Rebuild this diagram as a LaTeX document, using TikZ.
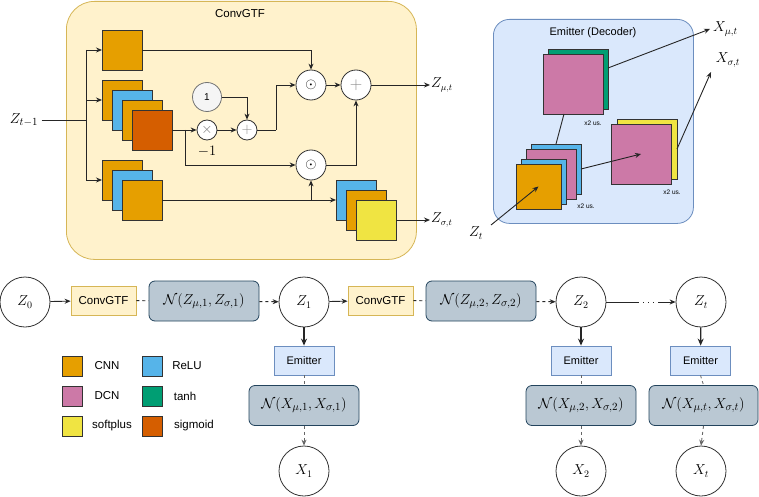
\documentclass[tikz,border=0pt]{standalone}
\usepackage{fontspec}
\setmainfont{Liberation Sans}
\usetikzlibrary{arrows.meta}
\definecolor{cnn}{HTML}{E69F00}
\definecolor{relu}{HTML}{56B4E9}
\definecolor{dcn}{HTML}{CC79A7}
\definecolor{tanhc}{HTML}{009E73}
\definecolor{softp}{HTML}{F0E442}
\definecolor{sigm}{HTML}{D55E00}
\definecolor{yfill}{HTML}{FFF2CC}
\definecolor{ydraw}{HTML}{D6B656}
\definecolor{bfill}{HTML}{DAE8FC}
\definecolor{bdraw}{HTML}{6C8EBF}
\definecolor{gfill}{HTML}{BAC8D3}
\definecolor{gdraw}{HTML}{23445D}
\begin{document}
\begin{tikzpicture}[x=1pt,y=-1pt,
  ln/.style={draw=black!85,line width=0.9pt},
  arr/.style={ln,-{Stealth[length=6pt,width=5pt]}},
  sq/.style={draw=black!80,line width=0.8pt,anchor=north west,minimum size=#1,inner sep=0,outer sep=0},
  opc/.style={circle,draw=black!80,fill=white,line width=0.8pt,minimum size=#1,inner sep=0},
  graysym/.style={text=black!45,font=\fontsize{15}{15}\selectfont},
  cbox/.style={draw=ydraw,fill=yfill,line width=0.8pt,minimum width=65pt,minimum height=29pt,font=\fontsize{11.5}{13}\selectfont,inner sep=0},
  ebox/.style={draw=bdraw,fill=bfill,line width=0.8pt,minimum width=60pt,minimum height=29pt,font=\fontsize{11}{13}\selectfont,inner sep=0},
  nbox/.style={draw=gdraw,fill=gfill,line width=0.8pt,rounded corners=6pt,minimum width=110pt,minimum height=40pt,font=\fontsize{15}{17}\selectfont,inner sep=0},
  var/.style={circle,draw=black!80,fill=white,line width=0.8pt,minimum size=50pt,inner sep=0,font=\fontsize{14.5}{17}\selectfont},
  mlab/.style={font=\fontsize{15}{17}\selectfont},
  dsh/.style={dash pattern=on 3pt off 3pt},
  lg/.style={draw=black!80,line width=0.8pt,anchor=north west,minimum size=20pt,inner sep=0},
  lgt/.style={font=\fontsize{11.5}{13}\selectfont},
  us/.style={font=\fontsize{6.5}{7}\selectfont}
]
\useasboundingbox (0,0) rectangle (759,497);
\fill[white] (0,0) rectangle (759,497);

% ================= ConvGTF =================
\node[draw=ydraw,fill=yfill,line width=0.8pt,rounded corners=28pt,anchor=north west,minimum width=350pt,minimum height=258pt,inner sep=0] (gtf) at (66,1) {};
\node[font=\fontsize{11.5}{13}\selectfont] (gtft) at (240,14) {ConvGTF};

\node[mlab] (zin) at (24,120) {$Z_{t-1}$};
\coordinate (bm) at (86,120);
\coordinate (bt) at (86,50);
\coordinate (bmid) at (86,100);
\coordinate (bb) at (86,180);

% stacks
\node[sq=40pt,fill=cnn] (s1) at (102,30) {};
\node[sq=40pt,fill=cnn] (s2a) at (102,80) {};
\node[sq=40pt,fill=relu] (s2b) at (112,90) {};
\node[sq=40pt,fill=cnn] (s2c) at (122,100) {};
\node[sq=40pt,fill=sigm] (s2d) at (132,110) {};
\node[sq=40pt,fill=cnn] (s3a) at (102,160) {};
\node[sq=40pt,fill=relu] (s3b) at (112,170) {};
\node[sq=40pt,fill=cnn] (s3c) at (122,180) {};
\node[sq=40pt,fill=relu] (s4a) at (336,180) {};
\node[sq=40pt,fill=cnn] (s4b) at (346,190) {};
\node[sq=40pt,fill=softp] (s4c) at (356,200) {};

\draw[ln] (zin.east) -- (bm);
\draw[ln] (bt) -- (bb);
\draw[arr] (bt) -- (s1.west);
\draw[arr] (bmid) -- (s2a.west);
\draw[arr] (bb) -- (s3a.west);

% operators
\node[circle,draw=black!55,fill=black!4,line width=0.8pt,minimum size=29pt,inner sep=0,font=\fontsize{10}{12}\selectfont] (one) at (207,97) {1};
\node[opc=20pt] (times) at (207,130) {};
\node[text=black!55,font=\fontsize{15}{15}\selectfont] at (times.center) {$\times$};
\node[opc=20pt] (plus1) at (247,130) {};
\node[graysym] at (plus1.center) {$+$};
\node[mlab] (m1) at (207,151) {$-1$};
\node[opc=30pt] (odot1) at (311,85) {};
\node[font=\fontsize{15}{15}\selectfont] at (odot1.center) {$\odot$};
\node[opc=30pt] (plusB) at (356,85) {};
\node[graysym,font=\fontsize{19}{19}\selectfont] at (plusB.center) {$+$};
\node[opc=30pt] (odot2) at (311,165) {};
\node[font=\fontsize{15}{15}\selectfont] at (odot2.center) {$\odot$};

\coordinate (j1) at (185,130);
\coordinate (k1) at (276,130);
\coordinate (j2) at (311,200);
\coordinate (zmuend) at (430,85);
\coordinate (zsgend) at (430,220);

\draw[arr] (s1.east) -| (odot1.north);
\draw[arr] (s2d.east) -- (times.west);
\draw[arr] (j1) |- (odot2.west);
\draw[arr] (one.east) -| (plus1.north);
\draw[arr] (times.east) -- (plus1.west);
\draw[ln] (plus1.east) -- (k1);
\draw[arr] (k1) |- (odot1.west);
\draw[arr] (odot1.east) -- (plusB.west);
\draw[arr] (plusB.east) -- (zmuend);
\draw[arr] (odot2.east) -| (plusB.south);
\draw[arr] (s3c.east) -- (s4a.west);
\draw[arr] (j2) -- (odot2.south);
\draw[arr] (s4c.east) -- (zsgend);
\node[anchor=west,inner sep=1pt,font=\fontsize{13.5}{16}\selectfont] (zmu) at (zmuend) {$Z_{\mu,t}$};
\node[anchor=west,inner sep=1pt,font=\fontsize{13.5}{16}\selectfont] (zsg) at (zsgend) {$Z_{\sigma,t}$};

% ================= Emitter (Decoder) =================
\node[draw=bdraw,fill=bfill,line width=0.8pt,rounded corners=16pt,anchor=north west,minimum width=200pt,minimum height=204pt,inner sep=0] (emb) at (493,19) {};
\node[font=\fontsize{11}{13}\selectfont] (embt) at (593,33) {Emitter (Decoder)};

\node[sq=60pt,fill=tanhc] (eg) at (548,49) {};
\node[sq=60pt,fill=dcn] (ep1) at (543,54) {};
\node[us] (us1) at (593,123) {x2 us.};

\node[sq=50pt,fill=relu] (eb1) at (531,144) {};
\node[sq=50pt,fill=dcn] (eb2) at (526,149) {};
\node[sq=45pt,fill=relu] (eb3) at (521,159) {};
\node[sq=45pt,fill=cnn] (eb4) at (516,164) {};
\node[us] (us2) at (586,206) {x2 us.};

\node[sq=60pt,fill=softp] (ey) at (617,119) {};
\node[sq=60pt,fill=dcn] (ep2) at (611,124) {};
\node[us] (us3) at (672,192) {x2 us.};

\draw[ln] (eb1.north) -- ([xshift=21pt]ep1.south west);
\draw[arr] (eb1.east) -- (ep2.center);
\coordinate (xmuend) at (710,29);
\coordinate (xsgend) at (711,72);
\draw[arr] ([yshift=11pt]eg.east) -- (xmuend);
\draw[arr] (ey.east) -- (xsgend);
\node[anchor=west,inner sep=1pt,font=\fontsize{14}{16}\selectfont] (xmu) at (712,29) {$X_{\mu,t}$};
\node[inner sep=1pt,font=\fontsize{14}{16}\selectfont] (xsg) at (728,60) {$X_{\sigma,t}$};
\node[font=\fontsize{14.5}{16}\selectfont] (ztl) at (476,233) {$Z_t$};
\coordinate (ztstart) at (491,225);
\draw[arr] (ztstart) -- (eb4.center);

% ================= chain =================
\node[var] (z0) at (25,302) {$Z_0$};
\node[cbox] (c1) at (103.5,300.5) {ConvGTF};
\node[nbox] (n1) at (204,301) {$\mathcal{N}(Z_{\mu,1},Z_{\sigma,1})$};
\node[var] (z1) at (304,302) {$Z_1$};
\node[cbox] (c2) at (380.5,300.5) {ConvGTF};
\node[nbox] (n2) at (481,301) {$\mathcal{N}(Z_{\mu,2},Z_{\sigma,2})$};
\node[var] (z2) at (581,302) {$Z_2$};
\node[var] (zt) at (701,302) {$Z_t$};

\draw[arr] (z0) -- (c1);
\draw[ln,dsh] (c1) -- (n1);
\draw[arr,dsh] (n1) -- (z1);
\draw[arr] (z1) -- (c2);
\draw[ln,dsh] (c2) -- (n2);
\draw[arr,dsh] (n2) -- (z2);
\draw[arr,dash pattern=on 33pt off 4pt on 1pt off 4pt on 1pt off 4pt on 1pt off 4pt on 40pt] (z2) -- (zt);

\node[ebox] (e1) at (304,360.5) {Emitter};
\node[ebox] (e2) at (581,360.5) {Emitter};
\node[ebox] (e3) at (700.5,360.5) {Emitter};
\node[nbox] (nx1) at (304,405.5) {$\mathcal{N}(X_{\mu,1},X_{\sigma,1})$};
\node[nbox] (nx2) at (581,405.5) {$\mathcal{N}(X_{\mu,2},X_{\sigma,2})$};
\node[nbox,minimum width=109pt] (nx3) at (703.5,405.5) {$\mathcal{N}(X_{\mu,t},X_{\sigma,t})$};
\node[var] (x1) at (304,471) {$X_1$};
\node[var] (x2) at (581,471) {$X_2$};
\node[var] (x3) at (701,471) {$X_t$};

\foreach \a/\b in {z1/e1,z2/e2,zt/e3}
  \draw[ln,line width=1.3pt,-{Stealth[length=7pt,width=6pt]}] (\a) -- (\b);
\foreach \a/\b in {e1/nx1,e2/nx2,e3/nx3}
  \draw[draw=black!60,line width=0.8pt,dsh] (\a.south) -- (\b.north);
\foreach \a/\b in {nx1/x1,nx2/x2,nx3/x3}
  \draw[arr,draw=black!60,dsh] (\a.south) -- (\b.north);

% ================= legend =================
\node[lg,fill=cnn] (l1) at (62,356) {};
\node[lg,fill=dcn] (l2) at (62,386) {};
\node[lg,fill=softp] (l3) at (62,416) {};
\node[lg,fill=relu] (l4) at (142,356) {};
\node[lg,fill=tanhc] (l5) at (142,386) {};
\node[lg,fill=sigm] (l6) at (142,416) {};
\node[lgt] (t1) at (107,366) {CNN};
\node[lgt] (t2) at (107,396) {DCN};
\node[lgt] (t3) at (112,426) {softplus};
\node[lgt] (t4) at (187,366) {ReLU};
\node[lgt] (t5) at (185,396) {tanh};
\node[lgt] (t6) at (194,426) {sigmoid};
\end{tikzpicture}
\end{document}
